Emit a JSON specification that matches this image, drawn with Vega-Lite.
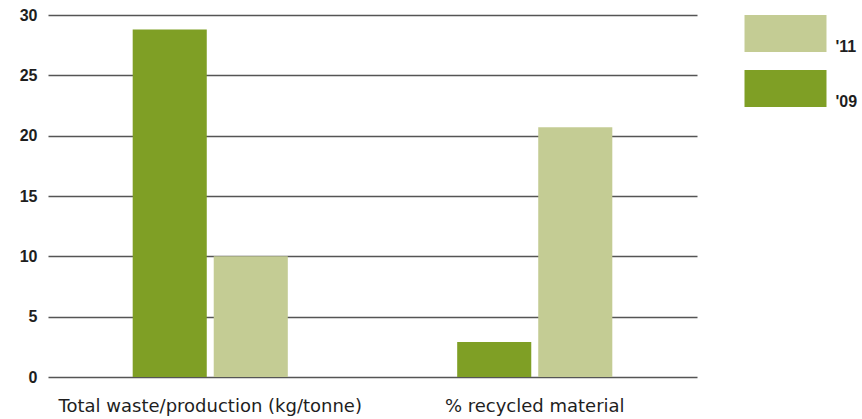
{
  "$schema": "https://vega.github.io/schema/vega-lite/v6.json",
  "width": 649,
  "height": 362,
  "autosize": "none",
  "padding": {"left": 48, "top": 15, "right": 165, "bottom": 42},
  "background": "white",
  "data": {
    "values": [
      {"measure": "Total waste/production (kg/tonne)", "year": "'09", "value": 28.8},
      {"measure": "Total waste/production (kg/tonne)", "year": "'11", "value": 10},
      {"measure": "% recycled material", "year": "'09", "value": 2.9},
      {"measure": "% recycled material", "year": "'11", "value": 20.7}
    ]
  },
  "mark": {"type": "bar"},
  "encoding": {
    "x": {
      "field": "measure",
      "type": "nominal",
      "sort": ["Total waste/production (kg/tonne)", "% recycled material"],
      "scale": {"paddingInner": 0.522, "paddingOuter": 0.261},
      "axis": {
        "title": null,
        "labelAngle": 0,
        "labelLimit": 0,
        "domain": false,
        "ticks": false,
        "labelPadding": 20,
        "labelFont": "DejaVu Sans",
        "labelFontSize": 18,
        "labelColor": "#1e1e1e"
      }
    },
    "xOffset": {
      "field": "year",
      "type": "nominal",
      "sort": ["'09", "'11"],
      "scale": {"paddingInner": 0.086, "paddingOuter": 0}
    },
    "y": {
      "field": "value",
      "type": "quantitative",
      "scale": {"domain": [0, 30], "nice": false},
      "axis": {
        "title": null,
        "values": [0, 5, 10, 15, 20, 25, 30],
        "domain": false,
        "ticks": false,
        "labelPadding": 11,
        "labelFont": "Liberation Sans",
        "labelFontSize": 16,
        "labelFontWeight": "bold",
        "labelColor": "#1e1e1e",
        "grid": true,
        "gridColor": "#555555",
        "gridWidth": 1.5
      }
    },
    "color": {
      "field": "year",
      "type": "nominal",
      "sort": ["'11", "'09"],
      "scale": {"domain": ["'11", "'09"], "range": ["#c4cc94", "#7f9f25"]},
      "legend": {
        "title": null,
        "orient": "right",
        "offset": 69.5,
        "padding": 0,
        "rowPadding": 15,
        "symbolType": "M-2.216,-1H2.216V1H-2.216Z",
        "symbolSize": 1369,
        "symbolStrokeWidth": 0,
        "symbolOpacity": 1,
        "labelOffset": 31.5,
        "labelExpr": "['', datum.label]",
        "labelBaseline": "alphabetic",
        "labelLineHeight": 29,
        "labelFont": "Liberation Sans",
        "labelFontSize": 16,
        "labelFontWeight": "bold",
        "labelColor": "#1e1e1e"
      }
    }
  },
  "config": {
    "view": {"stroke": null}
  }
}
